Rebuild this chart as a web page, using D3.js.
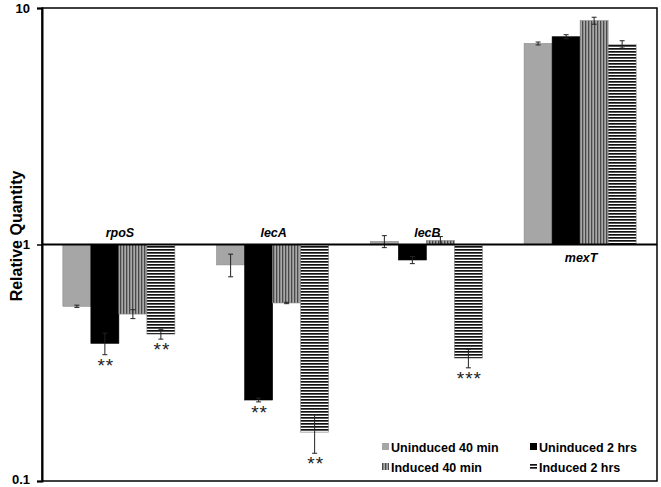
<!DOCTYPE html>
<html>
<head>
<meta charset="utf-8">
<script src="https://cdn.jsdelivr.net/npm/d3@7"></script>
<style>
  body { margin: 0; background: #fff; }
  svg { font-family: Arial, "Liberation Sans", sans-serif; }
</style>
</head>
<body>
<div id="chart"></div>
<script>
// data
var genes = ["rpoS", "lecA", "lecB", "mexT"];
var series = ["Uninduced 40 min", "Uninduced 2 hrs", "Induced 40 min", "Induced 2 hrs"];
var uninduced40 = [0.548, 0.82, 1.03, 7.08];
var uninduced2h = [0.382, 0.22, 0.86, 7.56];
var induced40 = [0.508, 0.566, 1.04, 8.84];
var induced2h = [0.418, 0.161, 0.331, 7.02];
var err40u = [0.006, 0.09, 0.06, 0.1];
var err2hu = [0.04, 0.004, 0.03, 0.15];
var err40i = [0.022, 0.004, 0.04, 0.3];
var err2hi = [0.02, 0.03, 0.03, 0.25];
var stars2hu = ["**", "**", "", ""];
var stars2hi = ["**", "**", "***", ""];
var yTicks = [0.1, 1, 10];

var W = 661, H = 487;
var margin = {top: 8, right: 4, bottom: 6, left: 42};

var svg = d3.select("#chart").append("svg")
    .attr("width", W)
    .attr("height", H);

// patterns for the induced bars
var defs = svg.append("defs");
var pv = defs.append("pattern").attr("id", "vstripe")
    .attr("patternUnits", "userSpaceOnUse").attr("width", 3).attr("height", 3);
pv.append("rect").attr("width", 3).attr("height", 3).attr("fill", "#a8a8a8");
pv.append("rect").attr("width", 1.3).attr("height", 3).attr("fill", "#4a4a4a");
var ph = defs.append("pattern").attr("id", "hstripe")
    .attr("patternUnits", "userSpaceOnUse").attr("width", 3).attr("height", 3);
ph.append("rect").attr("width", 3).attr("height", 3).attr("fill", "#fff");
ph.append("rect").attr("width", 3).attr("height", 1.7).attr("fill", "#111");

var fills = ["#a6a6a6", "#000", "url(#vstripe)", "url(#hstripe)"];
var values = [uninduced40, uninduced2h, induced40, induced2h];
var errors = [err40u, err2hu, err40i, err2hi];
var stars = [[], stars2hu, [], stars2hi];

var x0 = d3.scaleBand().domain(genes)
    .range([margin.left, W - margin.right]).padding(0);
var x1 = d3.scaleBand().domain(series)
    .range([0, x0.bandwidth()]).paddingInner(0).paddingOuter(0.745);
var y = d3.scaleLog().domain([0.1, 10])
    .range([H - margin.bottom, margin.top]);

// flatten into bar records
var bars = [];
genes.forEach(function(g, gi) {
    series.forEach(function(s, si) {
        bars.push({
            gene: g, series: s, si: si,
            v: values[si][gi], e: errors[si][gi],
            star: stars[si][gi] || ""
        });
    });
});

// frame
svg.append("rect")
    .attr("x", margin.left).attr("y", margin.top)
    .attr("width", W - margin.left - margin.right)
    .attr("height", H - margin.top - margin.bottom)
    .attr("fill", "none").attr("stroke", "#000").attr("stroke-width", 1.5);

var gBars = svg.append("g");
gBars.selectAll("rect").data(bars).enter().append("rect")
    .attr("x", function(d) { return x0(d.gene) + x1(d.series); })
    .attr("y", function(d) { return Math.min(y(d.v), y(1)); })
    .attr("width", x1.bandwidth())
    .attr("height", function(d) { return Math.abs(y(d.v) - y(1)); })
    .attr("fill", function(d) { return fills[d.si]; })
    .attr("stroke", function(d) { return d.si == 1 ? "#000" : "#888"; })
    .attr("stroke-width", 0.6);

// error bars
var eb = svg.append("g").attr("stroke", "#222").attr("stroke-width", 1);
bars.forEach(function(d) {
    var cx = x0(d.gene) + x1(d.series) + x1.bandwidth() / 2;
    var y1 = y(d.v + d.e), y2 = y(d.v - d.e);
    eb.append("line").attr("x1", cx).attr("x2", cx).attr("y1", y1).attr("y2", y2);
    eb.append("line").attr("x1", cx - 2.5).attr("x2", cx + 2.5).attr("y1", y1).attr("y2", y1);
    eb.append("line").attr("x1", cx - 2.5).attr("x2", cx + 2.5).attr("y1", y2).attr("y2", y2);
});

// significance stars
svg.append("g").selectAll("text").data(bars.filter(function(d) { return d.star; }))
    .enter().append("text")
    .attr("x", function(d) { return x0(d.gene) + x1(d.series) + x1.bandwidth() / 2 + 1; })
    .attr("y", function(d) { return y(d.v - d.e) + 17; })
    .attr("text-anchor", "middle")
    .attr("font-size", 19)
    .attr("letter-spacing", 1)
    .attr("fill", "#222")
    .text(function(d) { return d.star; });

// baseline at 1
svg.append("line")
    .attr("x1", margin.left).attr("x2", W - margin.right)
    .attr("y1", y(1)).attr("y2", y(1))
    .attr("stroke", "#000").attr("stroke-width", 2);

// gene labels
svg.append("g").selectAll("text").data(genes).enter().append("text")
    .attr("x", function(g) { return x0(g) + x0.bandwidth() / 2 + 1; })
    .attr("y", function(g, i) {
        var up = d3.max(values, function(s) { return s[i]; }) > 2;
        return up ? y(1) + 17 : y(1) - 8;
    })
    .attr("text-anchor", "middle")
    .attr("font-size", 12.5).attr("font-weight", "bold").attr("font-style", "italic")
    .text(function(g) { return g; });

// y axis
var yAxis = svg.append("g")
    .attr("transform", "translate(" + margin.left + ",0)")
    .call(d3.axisLeft(y).tickValues(yTicks).tickSize(5).tickPadding(7)
        .tickFormat(function(d) { return d3.format("~g")(d); }));
yAxis.select(".domain").attr("stroke-width", 2);
yAxis.selectAll(".tick line").attr("stroke-width", 1.5);
yAxis.selectAll("text").attr("font-size", 13).attr("font-weight", "bold")
    .attr("font-family", "Arial, 'Liberation Sans', sans-serif").attr("fill", "#000");
yAxis.selectAll(".tick").filter(function(d) { return d == 0.1; })
    .select("text").attr("dy", "0.2em");

svg.append("text")
    .attr("transform", "translate(22,236) rotate(-90)")
    .attr("text-anchor", "middle")
    .attr("font-size", 16).attr("font-weight", "bold")
    .text("Relative Quantity");

// legend
var legendX = [382, 530], legendY = [447, 467];
var legend = svg.append("g").selectAll("g").data(series).enter().append("g")
    .attr("transform", function(d, i) {
        return "translate(" + legendX[i % 2] + "," + legendY[Math.floor(i / 2)] + ")";
    });
legend.append("rect")
    .attr("x", 0).attr("y", -4).attr("width", 7).attr("height", 7)
    .attr("fill", function(d, i) { return fills[i]; });
legend.append("text")
    .attr("x", 9).attr("y", 4.5)
    .attr("font-size", 12.5).attr("font-weight", "bold")
    .text(function(d) { return d; });
</script>
</body>
</html>
